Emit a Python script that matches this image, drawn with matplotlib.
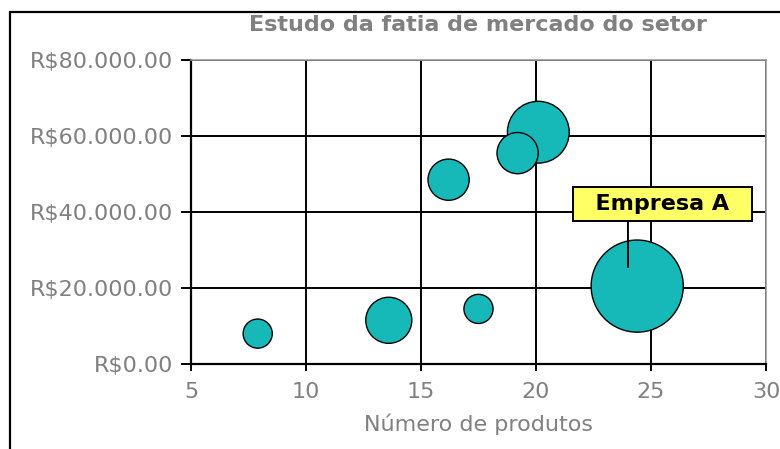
import numpy as np
import matplotlib
matplotlib.use('Agg')
import matplotlib.pyplot as plt
from matplotlib.ticker import FuncFormatter

# dados das empresas (número de produtos, vendas, fatia de mercado)
produtos = [7.9, 13.6, 16.2, 17.5, 20.1, 19.2, 24.4]
vendas = [8000, 11500, 48500, 14500, 61000, 55500, 20500]
fatia = [1.0, 2.5, 2.0, 1.0, 4.5, 2.0, 10.0]

titulo = 'Estudo da fatia de mercado do setor'
rotulo_x = 'Número de produtos'
destaque = 'Empresa A'
x_ticks = [5, 10, 15, 20, 25, 30]
y_ticks = [0, 20000, 40000, 60000, 80000]

cinza = '#808080'

fig = plt.figure(figsize=(7.8, 4.49), dpi=100)
ax = fig.add_axes([191 / 780, 1 - 364 / 449, (766 - 191) / 780, (364 - 60) / 449])

# moldura externa (só aparece topo e esquerda)
fig.add_artist(plt.Rectangle((10 / 780, -0.2), 1.2, 1.2 - 12 / 449, fill=False,
                             lw=1.6, ec='black', transform=fig.transFigure))

ax.set_xlim(5, 30)
ax.set_ylim(0, 80000)
ax.set_xticks(x_ticks)
ax.set_yticks(y_ticks)
ax.grid(True, color='black', lw=1.4)
ax.set_axisbelow(True)

escala = 440
ax.scatter(produtos, vendas, s=np.array(fatia) * escala, c='#17B8B8',
           edgecolors='black', linewidths=1.0, zorder=3)

ax.yaxis.set_major_formatter(FuncFormatter(
    lambda v, p: 'R\\$' + f'{v:,.2f}'.replace(',', '.')))

for s in ['left', 'bottom']:
    ax.spines[s].set_color('black')
    ax.spines[s].set_linewidth(1.6)
for s in ['top', 'right']:
    ax.spines[s].set_color('#999999')
    ax.spines[s].set_linewidth(1.2)

ax.tick_params(axis='y', direction='out', length=7, width=1.4, colors='black',
               labelcolor=cinza, labelsize=16, pad=6)
ax.tick_params(axis='x', direction='out', length=5, width=1.4, colors='black',
               labelcolor=cinza, labelsize=16, pad=8)

ax.set_xlabel(rotulo_x, color=cinza, fontsize=16, labelpad=8)
fig.text(478 / 780, 1 - 25 / 449, titulo, ha='center', va='center',
         color=cinza, fontsize=16, fontweight='bold')

# rótulo da Empresa A
ax.annotate('  ' + destaque + '  ', xy=(24.0, 25500), xytext=(25.5, 42200),
            ha='center', va='center', fontsize=16, fontweight='bold', color='black',
            bbox=dict(boxstyle='square,pad=0.32', fc='#FFFF66', ec='black', lw=1.4),
            arrowprops=dict(arrowstyle='-', color='black', lw=1.4, relpos=(0.29, 0),
                            shrinkA=0, shrinkB=0),
            zorder=5)

fig.savefig('out.png', dpi=100)
